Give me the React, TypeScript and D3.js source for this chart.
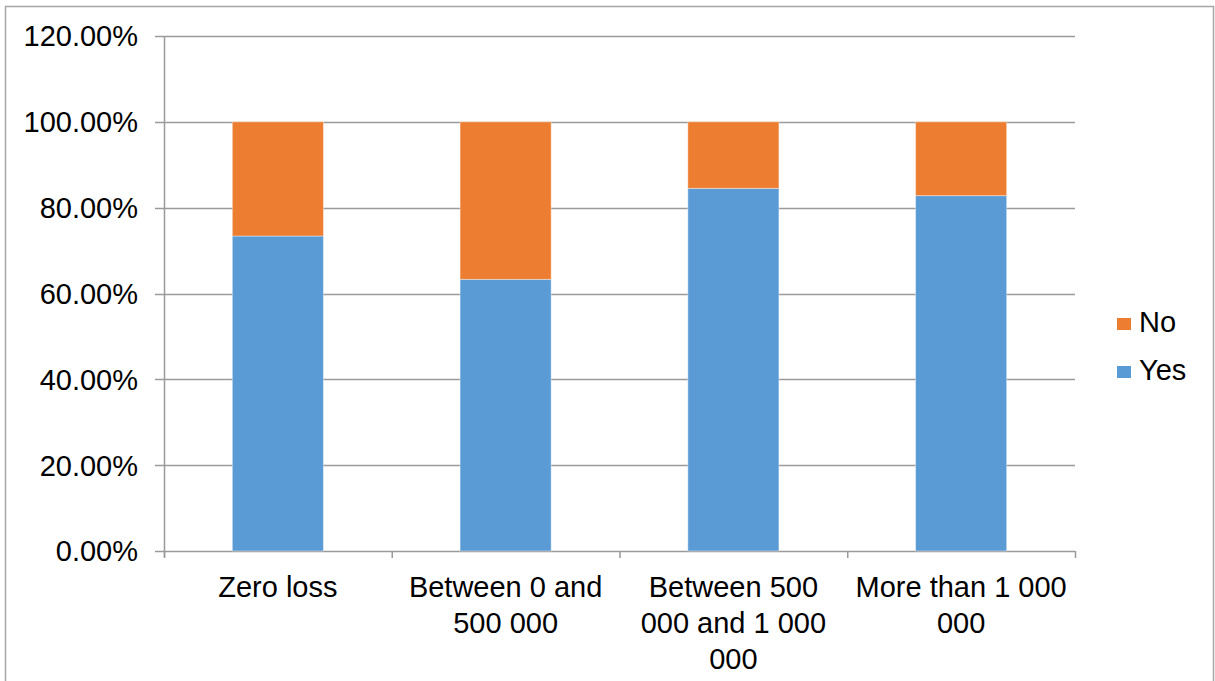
import React from "react";
import * as d3 from "d3";

// Loss band categories (axis labels broken into lines as displayed)
const categories = ["Zero loss", "Between 0 and 500 000", "Between 500 000 and 1 000 000", "More than 1 000 000"];
const categoryLines = [
  ["Zero loss"],
  ["Between 0 and", "500 000"],
  ["Between 500", "000 and 1 000", "000"],
  ["More than 1 000", "000"],
];

// Share of respondents per category (percent)
const yesValues = [73.4, 63.3, 84.5, 82.8];
const noValues = [26.6, 36.7, 15.5, 17.2];

const seriesNames = ["Yes", "No"];
const seriesColors = ["#5B9BD5", "#ED7D31"];

const yTicks = [0, 20, 40, 60, 80, 100, 120];

const W = 1215;
const H = 681;
const FONT = "'Liberation Sans', Arial, sans-serif";
const FS = 29;

export default function App() {
  const left = 164;
  const right = 1075;
  const top = 36;
  const bottom = 551;

  const x = d3
    .scaleBand<string>()
    .domain(categories)
    .range([left, right])
    .paddingInner(0.6)
    .paddingOuter(0.3);

  const y = d3.scaleLinear().domain([0, 120]).range([bottom, top]);

  const fmt = (v: number) => v.toFixed(2) + "%";

  const stacks = categories.map((c, i) => {
    const yes = yesValues[i];
    const no = noValues[i];
    return [
      { key: "Yes", y0: 0, y1: yes, color: seriesColors[0] },
      { key: "No", y0: yes, y1: yes + no, color: seriesColors[1] },
    ];
  });

  const catEdges = categories.map((_, i) => left + (right - left) * (i / categories.length));
  catEdges.push(right);

  return (
    <svg
      width={W}
      height={H}
      style={{ position: "absolute", left: 0, top: 0, background: "#fff" }}
      fontFamily={FONT}
    >
      <rect x={5.5} y={6.5} width={1208} height={H + 10} fill="#fff" stroke="#a6a6a6" strokeWidth={1.5} />

      {/* horizontal gridlines */}
      {yTicks.map((t) => (
        <line
          key={"g" + t}
          x1={left - 9}
          x2={right}
          y1={Math.round(y(t)) + 0.5}
          y2={Math.round(y(t)) + 0.5}
          stroke="#9a9a9a"
          strokeWidth={1.5}
        />
      ))}

      {/* y axis line */}
      <line x1={left + 0.5} x2={left + 0.5} y1={top} y2={bottom + 6} stroke="#9a9a9a" strokeWidth={1.5} />

      {/* category ticks */}
      {catEdges.map((xe, i) => (
        <line
          key={"ct" + i}
          x1={xe + 0.5}
          x2={xe + 0.5}
          y1={bottom}
          y2={bottom + 7}
          stroke="#9a9a9a"
          strokeWidth={1.5}
        />
      ))}

      {/* y tick labels */}
      {yTicks.map((t) => (
        <text
          key={"yl" + t}
          x={138}
          y={y(t)}
          dy="0.36em"
          textAnchor="end"
          fontSize={FS}
          fill="#000"
        >
          {fmt(t)}
        </text>
      ))}

      {/* stacked bars */}
      {stacks.map((segs, i) =>
        segs.map((s) => (
          <rect
            key={categories[i] + s.key}
            x={x(categories[i])}
            y={y(s.y1)}
            width={x.bandwidth()}
            height={y(s.y0) - y(s.y1)}
            fill={s.color}
            stroke="#fff"
            strokeOpacity={0.4}
            strokeWidth={1}
          />
        ))
      )}

      {/* category labels */}
      {categoryLines.map((lines, i) => (
        <text
          key={"cl" + i}
          x={(x(categories[i]) as number) + x.bandwidth() / 2}
          y={597}
          textAnchor="middle"
          fontSize={FS}
          fill="#000"
        >
          {lines.map((ln, j) => (
            <tspan key={j} x={(x(categories[i]) as number) + x.bandwidth() / 2} dy={j === 0 ? 0 : 36}>
              {ln}
            </tspan>
          ))}
        </text>
      ))}

      {/* legend */}
      {[1, 0].map((si, k) => (
        <g key={"lg" + si} transform={`translate(1117, ${318 + k * 48})`}>
          <rect x={0} y={0} width={14} height={12} fill={seriesColors[si]} />
          <text x={22} y={14} fontSize={FS} fill="#000">
            {seriesNames[si]}
          </text>
        </g>
      ))}
    </svg>
  );
}
